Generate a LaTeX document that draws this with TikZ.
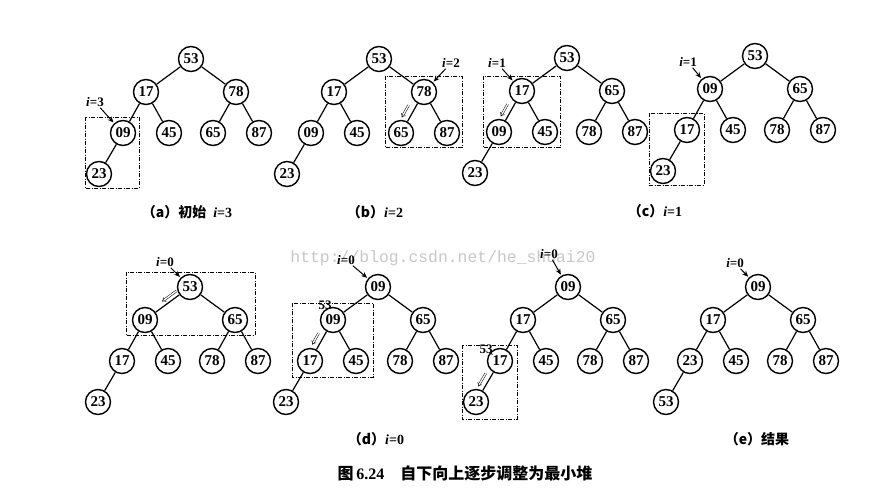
\documentclass[tikz,border=0pt]{standalone}
\usepackage{fontspec}
\setmainfont{Liberation Serif}
\newfontfamily\cjk{Noto Sans CJK SC}
\newfontfamily\wmfont{Liberation Mono}
\usetikzlibrary{arrows.meta,calc}

\tikzset{
  key/.style = {circle, draw, line width = 1.4pt, minimum size = 25pt, inner sep = 0pt, font = \fontsize{15}{15}\selectfont\bfseries},
  edge/.style = {line width = 1.2pt},
  ptr/.style = {line width = 1pt, -{Stealth[length = 6pt, width = 5pt]}, shorten >= 1pt},
  swap/.style = {double, double distance = 1.3pt, line width = 0.5pt, -{Implies}},
  box/.style = {line width = 0.9pt, dash pattern = on 4pt off 1.5pt on 1pt off 1.5pt},
  ilabel/.style = {inner sep = 1pt, font = \fontsize{13}{13}\selectfont\bfseries},
  caption/.style = {font = \fontsize{14}{14}\selectfont\bfseries}
}

% one heap: #1 prefix, #2..#9 keys in level order
\newcommand\heap[9]{
\node[key] (#1r) at (0,0) {#2};
\node[key] (#1a) at (-45,33) {#3};
\node[key] (#1b) at (45,33) {#4};
\node[key] (#1c) at (-68,74) {#5};
\node[key] (#1d) at (-22,74) {#6};
\node[key] (#1e) at (22,74) {#7};
\node[key] (#1f) at (68,74) {#8};
\node[key] (#1g) at (-92,115) {#9};
\foreach \p/\c in {r/a,r/b,a/c,a/d,b/e,b/f,c/g} \draw[edge] (#1\p) -- (#1\c);
}

\begin{document}
\begin{tikzpicture}[x = 1pt, y = -1pt]
\useasboundingbox (0,0) rectangle (869,493);
\node[text = black!22, font = \wmfont\fontsize{16.4}{16.4}\selectfont] (wm) at (443,258) {http://blog.csdn.net/he\_shuai20};

% top row
\begin{scope}[shift = {(191,59)}] \heap{a}{53}{17}{78}{09}{45}{65}{87}{23} \end{scope}
\begin{scope}[shift = {(379,59)}] \heap{b}{53}{17}{78}{09}{45}{65}{87}{23} \end{scope}
\begin{scope}[shift = {(567,58)}] \heap{c}{53}{17}{65}{09}{45}{78}{87}{23} \end{scope}
\begin{scope}[shift = {(755,56)}] \heap{k}{53}{09}{65}{17}{45}{78}{87}{23} \end{scope}
% bottom row
\begin{scope}[shift = {(190,287)}] \heap{d}{53}{09}{65}{17}{45}{78}{87}{23} \end{scope}
\begin{scope}[shift = {(378,287)}] \heap{m}{09}{09}{65}{17}{45}{78}{87}{23} \end{scope}
\begin{scope}[shift = {(568,287)}] \heap{n}{09}{17}{65}{17}{45}{78}{87}{23} \end{scope}
\begin{scope}[shift = {(758,287)}] \heap{e}{09}{17}{65}{23}{45}{78}{87}{53} \end{scope}

% dashed frames
\draw[box] (85,117) rectangle (139,188);
\draw[box] (385,76) rectangle (462,147);
\draw[box] (483,76) rectangle (560,147);
\draw[box] (649,113) rectangle (704,185);
\draw[box] (126,272) rectangle (255,335);
\draw[box] (292,303) rectangle (373,377);
\draw[box] (462,345) rectangle (517,419);

% i pointers
\node[ilabel] (ia) at (95,102) {\textit{i}=3};
\node[ilabel] (ib) at (451,63) {\textit{i}=2};
\node[ilabel] (ic) at (497,63) {\textit{i}=1};
\node[ilabel] (ik) at (688,62) {\textit{i}=1};
\node[ilabel] (id) at (165,262) {\textit{i}=0};
\node[ilabel] (im) at (346,260) {\textit{i}=0};
\node[ilabel] (in) at (549,254) {\textit{i}=0};
\node[ilabel] (ie) at (735,263) {\textit{i}=0};
\draw[ptr] (ia) -- (ac);
\draw[ptr] (ib) -- (bb);
\draw[ptr] (ic) -- (ca);
\draw[ptr] (ik) -- (ka);
\draw[ptr] (id) -- (dr);
\draw[ptr] (im) -- (mr);
\draw[ptr] (in) -- (nr);
\draw[ptr] (ie) -- (er);

% sift-down moves
\draw[swap] ($(bb)!0.32!(be)+(-8,0)$) -- ($(bb)!0.62!(be)+(-8,0)$);
\draw[swap] ($(ca)!0.32!(cc)+(-7,0)$) -- ($(ca)!0.62!(cc)+(-7,0)$);
\draw[swap] ($(dr)!0.3!(da)+(0,-6)$) -- ($(dr)!0.62!(da)+(0,-6)$);
\draw[swap] ($(ma)!0.32!(mc)+(-7,0)$) -- ($(ma)!0.6!(mc)+(-7,0)$);
\draw[swap] ($(nc)!0.3!(ng)+(-7,0)$) -- ($(nc)!0.62!(ng)+(-7,0)$);
\node[ilabel] (ma53) at (325,305) {53};
\node[ilabel] (nc53) at (486,349) {53};
\draw[line width = 0.8pt] (nc53) -- (nc);

% captions
\node[caption] (capa) at (187,212) {{\cjk（a）初始}\ \ \textit{i}=3};
\node[caption] (capb) at (375,212) {{\cjk（b）}\textit{i}=2};
\node[caption] (capc) at (655,211) {{\cjk（c）}\textit{i}=1};
\node[caption] (capd) at (376,439) {{\cjk（d）}\textit{i}=0};
\node[caption] (cape) at (757,439) {\cjk（e）结果};
\node[font = \fontsize{16}{16}\selectfont\bfseries] (title) at (465,473) {{\cjk 图}\,6.24\quad{\cjk 自下向上逐步调整为最小堆}};
\end{tikzpicture}
\end{document}
